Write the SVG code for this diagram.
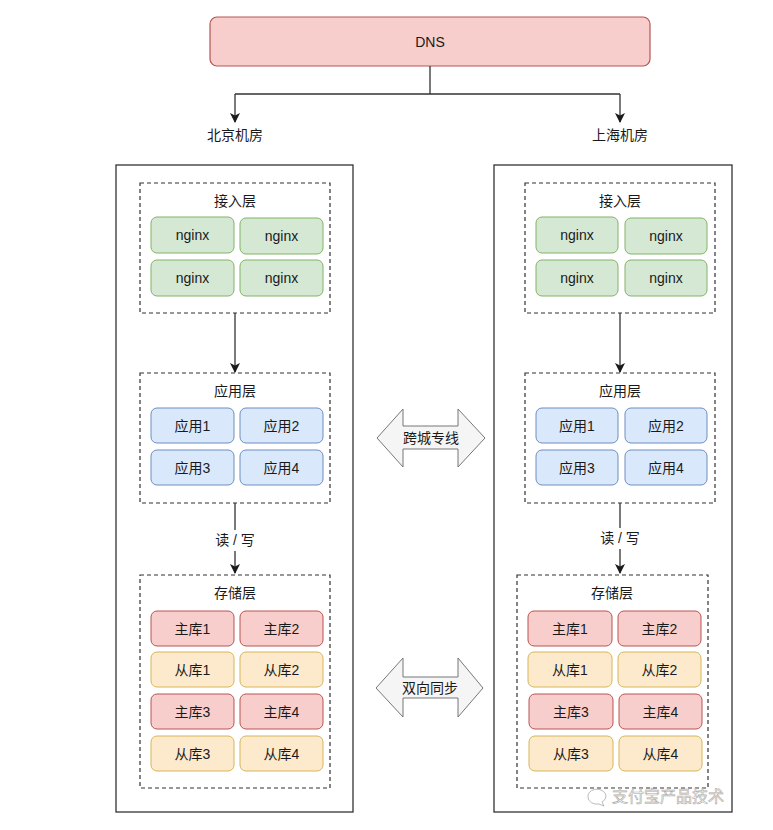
<svg xmlns="http://www.w3.org/2000/svg" width="773" height="830" viewBox="0 0 773 830">
<defs>
<marker id="ah" viewBox="0 0 10 10" refX="9" refY="5" markerWidth="10" markerHeight="10" markerUnits="userSpaceOnUse" orient="auto">
<path d="M0,0 L10,5 L0,10 L2.5,5 Z" fill="#1a1a1a"/>
</marker>
<style>
text{font-family:"Liberation Sans","Noto Sans CJK SC",sans-serif;font-size:14px;fill:#1a1a1a;text-anchor:middle;dominant-baseline:central}
.room{fill:#fff;stroke:#333;stroke-width:1.3}
.layer{fill:none;stroke:#333;stroke-width:1.2;stroke-dasharray:4 3}
.ng{fill:#d5e8d4;stroke:#82b366}
.app{fill:#dae8fc;stroke:#6c8ebf}
.ma{fill:#f8cecc;stroke:#b85450}
.sl{fill:#fde9cc;stroke:#d6b656}
.conn{fill:none;stroke:#333;stroke-width:1.3}
.big{fill:#f5f5f5;stroke:#777;stroke-width:1}
.wm{fill:#fff;stroke:#aaa;stroke-width:0.6;font-size:16px}
</style>
</defs>
<rect width="773" height="830" fill="#fff"/>

<g id="dns">
<rect x="210" y="17" width="440" height="49" rx="7" fill="#f8cecc" stroke="#b85450" stroke-width="1.2"/>
<text x="430" y="41.5">DNS</text>
</g>

<g id="label-beijing"><text x="235" y="135">北京机房</text></g>
<g id="label-shanghai"><text x="620" y="135">上海机房</text></g>

<g id="beijing">
<rect class="room" x="116" y="165" width="237" height="647"/>
<g id="bj-access">
<rect class="layer" x="140" y="183" width="190" height="130"/>
<text x="235" y="201">接入层</text>
<rect class="ng" x="151" y="217" width="83" height="36" rx="6"/><text x="192.5" y="235">nginx</text>
<rect class="ng" x="240" y="218" width="83" height="36" rx="6"/><text x="281.5" y="236">nginx</text>
<rect class="ng" x="151" y="260" width="83" height="36" rx="6"/><text x="192.5" y="278">nginx</text>
<rect class="ng" x="240" y="260" width="83" height="36" rx="6"/><text x="281.5" y="278">nginx</text>
</g>
<g id="bj-app">
<rect class="layer" x="140" y="373" width="190" height="130"/>
<text x="235" y="391">应用层</text>
<rect class="app" x="151" y="408" width="83" height="35" rx="6"/><text x="192.5" y="425.5">应用1</text>
<rect class="app" x="240" y="408" width="83" height="35" rx="6"/><text x="281.5" y="425.5">应用2</text>
<rect class="app" x="151" y="450" width="83" height="35" rx="6"/><text x="192.5" y="467.5">应用3</text>
<rect class="app" x="240" y="450" width="83" height="35" rx="6"/><text x="281.5" y="467.5">应用4</text>
</g>
<g id="bj-storage">
<rect class="layer" x="140" y="575" width="190" height="213"/>
<text x="235" y="593">存储层</text>
<rect class="ma" x="151" y="611" width="83" height="35" rx="6"/><text x="192.5" y="628.5">主库1</text>
<rect class="ma" x="240" y="611" width="83" height="35" rx="6"/><text x="281.5" y="628.5">主库2</text>
<rect class="sl" x="151" y="652" width="83" height="35" rx="6"/><text x="192.5" y="669.5">从库1</text>
<rect class="sl" x="240" y="652" width="83" height="35" rx="6"/><text x="281.5" y="669.5">从库2</text>
<rect class="ma" x="151" y="694" width="83" height="35" rx="6"/><text x="192.5" y="711.5">主库3</text>
<rect class="ma" x="240" y="694" width="83" height="35" rx="6"/><text x="281.5" y="711.5">主库4</text>
<rect class="sl" x="151" y="736" width="83" height="35" rx="6"/><text x="192.5" y="753.5">从库3</text>
<rect class="sl" x="240" y="736" width="83" height="35" rx="6"/><text x="281.5" y="753.5">从库4</text>
</g>
</g>

<g id="shanghai">
<rect class="room" x="494" y="165" width="238" height="647"/>
<g id="sh-access">
<rect class="layer" x="525" y="183" width="190" height="130"/>
<text x="620" y="201">接入层</text>
<rect class="ng" x="536" y="217" width="82" height="36" rx="6"/><text x="577" y="235">nginx</text>
<rect class="ng" x="625" y="218" width="82" height="36" rx="6"/><text x="666" y="236">nginx</text>
<rect class="ng" x="536" y="260" width="82" height="36" rx="6"/><text x="577" y="278">nginx</text>
<rect class="ng" x="625" y="260" width="82" height="36" rx="6"/><text x="666" y="278">nginx</text>
</g>
<g id="sh-app">
<rect class="layer" x="525" y="373" width="190" height="130"/>
<text x="620" y="391">应用层</text>
<rect class="app" x="536" y="408" width="82" height="35" rx="6"/><text x="577" y="425.5">应用1</text>
<rect class="app" x="625" y="408" width="82" height="35" rx="6"/><text x="666" y="425.5">应用2</text>
<rect class="app" x="536" y="450" width="82" height="35" rx="6"/><text x="577" y="467.5">应用3</text>
<rect class="app" x="625" y="450" width="82" height="35" rx="6"/><text x="666" y="467.5">应用4</text>
</g>
<g id="sh-storage">
<rect class="layer" x="517" y="575" width="191" height="213"/>
<text x="612" y="593">存储层</text>
<rect class="ma" x="528" y="611" width="84" height="35" rx="6"/><text x="570" y="628.5">主库1</text>
<rect class="ma" x="618" y="611" width="83" height="35" rx="6"/><text x="659.5" y="628.5">主库2</text>
<rect class="sl" x="528" y="652" width="84" height="35" rx="6"/><text x="570" y="669.5">从库1</text>
<rect class="sl" x="618" y="652" width="83" height="35" rx="6"/><text x="659.5" y="669.5">从库2</text>
<rect class="ma" x="529" y="694" width="84" height="35" rx="6"/><text x="571" y="711.5">主库3</text>
<rect class="ma" x="619" y="694" width="83" height="35" rx="6"/><text x="660.5" y="711.5">主库4</text>
<rect class="sl" x="529" y="736" width="84" height="35" rx="6"/><text x="571" y="753.5">从库3</text>
<rect class="sl" x="619" y="736" width="83" height="35" rx="6"/><text x="660.5" y="753.5">从库4</text>
</g>
</g>

<g id="connectors">
<path class="conn" d="M430,66 V94 M235,94 H620" />
<path class="conn" d="M235,94 V122" marker-end="url(#ah)"/>
<path class="conn" d="M620,94 V122" marker-end="url(#ah)"/>
<path class="conn" d="M235,313 V372" marker-end="url(#ah)"/>
<path class="conn" d="M620,313 V372" marker-end="url(#ah)"/>
<path class="conn" d="M235,503 V530 M235,551 V573" marker-end="url(#ah)"/>
<path class="conn" d="M620,503 V528 M620,549 V573" marker-end="url(#ah)"/>
</g>
<g id="label-rw-left"><text x="235" y="540">读 / 写</text></g>
<g id="label-rw-right"><text x="620" y="538">读 / 写</text></g>

<g id="link-crosscity">
<path class="big" d="M377,438 L403,409 V426 H458 V409 L485,438 L458,467 V449 H403 V467 Z"/>
<text x="431" y="438">跨城专线</text>
</g>
<g id="link-sync">
<path class="big" d="M376,688 L403,658 V677 H458 V658 L483,688 L458,717 V698 H403 V717 Z"/>
<text x="430" y="688">双向同步</text>
</g>

<g id="watermark">
<path d="M588,797 a9,7 0 1 1 14,5 l2,4 l-5,-2 a9,7 0 0 1 -11,-7 Z" fill="#fff" stroke="#aaa" stroke-width="0.8"/>
<text class="wm" x="668" y="796">支付宝产品技术</text>
</g>
</svg>
